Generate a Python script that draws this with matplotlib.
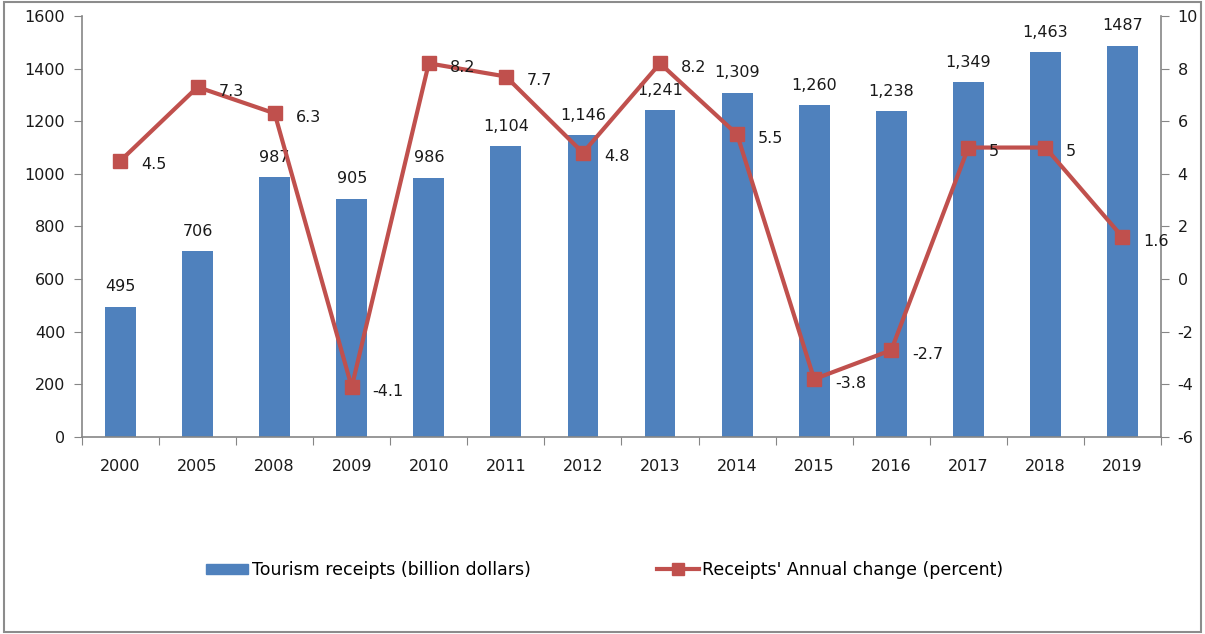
import matplotlib
matplotlib.use("Agg")
import matplotlib.pyplot as plt
from matplotlib.patches import Rectangle
from matplotlib.lines import Line2D
from matplotlib.patches import Patch

years = ["2000", "2005", "2008", "2009", "2010", "2011", "2012", "2013",
         "2014", "2015", "2016", "2017", "2018", "2019"]
receipts = [495, 706, 987, 905, 986, 1104, 1146, 1241, 1309, 1260, 1238, 1349, 1463, 1487]
receipt_labels = ["495", "706", "987", "905", "986", "1,104", "1,146", "1,241",
                  "1,309", "1,260", "1,238", "1,349", "1,463", "1487"]
annual_change = [4.5, 7.3, 6.3, -4.1, 8.2, 7.7, 4.8, 8.2, 5.5, -3.8, -2.7, 5, 5, 1.6]
change_labels = ["4.5", "7.3", "6.3", "-4.1", "8.2", "7.7", "4.8", "8.2", "5.5",
                 "-3.8", "-2.7", "5", "5", "1.6"]

BLUE = "#4F81BD"
RED = "#C0504D"
AXIS = "#868686"
TEXT = "#1a1a1a"
FS = 11.5

plt.rcParams["font.family"] = ["DejaVu Sans"]
plt.rcParams["axes.unicode_minus"] = False

fig = plt.figure(figsize=(12.05, 6.34), dpi=100)
fig.patches.append(Rectangle((0.003, 0.003), 0.994, 0.994, transform=fig.transFigure,
                             fill=False, edgecolor="#8c8c8c", linewidth=1.5))

ax = fig.add_axes([0.068, 0.3107, 0.8955, 0.6641])
x = list(range(len(years)))
ax.bar(x, receipts, width=0.4, color=BLUE, zorder=2)
for xi, v, lab in zip(x, receipts, receipt_labels):
    ax.annotate(lab, (xi, v), xytext=(0, 9), textcoords="offset points",
                ha="center", va="bottom", fontsize=FS, color=TEXT, zorder=3)

ax.set_xlim(-0.5, len(years) - 0.5)
ax.set_ylim(0, 1600)
ax.set_yticks(range(0, 1601, 200))
ax.set_xticks([i + 0.5 for i in range(-1, len(years))], minor=False)
ax.set_xticklabels([])
ax.set_xticks(x, minor=True)
ax.set_xticklabels(years, minor=True)
ax.tick_params(axis="x", which="major", length=6, color=AXIS, direction="out")
ax.tick_params(axis="x", which="minor", length=0, pad=16, labelsize=FS, labelcolor=TEXT)
ax.tick_params(axis="y", length=6, color=AXIS, labelsize=FS, labelcolor=TEXT, pad=6)
for side in ["top", "right"]:
    ax.spines[side].set_visible(False)
for side in ["left", "bottom"]:
    ax.spines[side].set_color(AXIS)
    ax.spines[side].set_linewidth(1.2)

ax2 = ax.twinx()
ax2.plot(x, annual_change, color=RED, linewidth=3, marker="s", markersize=10,
         markerfacecolor=RED, markeredgecolor=RED, zorder=4)
for xi, v, lab in zip(x, annual_change, change_labels):
    ax2.annotate(lab, (xi, v), xytext=(15, -3), textcoords="offset points",
                 ha="left", va="center", fontsize=FS, color=TEXT, zorder=5)
ax2.set_ylim(-6, 10)
ax2.set_yticks(range(-6, 11, 2))
ax2.tick_params(axis="y", length=6, color=AXIS, labelsize=FS, labelcolor=TEXT, pad=6)
for side in ["top", "left", "bottom"]:
    ax2.spines[side].set_visible(False)
ax2.spines["right"].set_color(AXIS)
ax2.spines["right"].set_linewidth(1.2)

handles = [Patch(facecolor=BLUE, edgecolor=BLUE, label="Tourism receipts (billion dollars)"),
           Line2D([0], [0], color=RED, linewidth=3, marker="s", markersize=9,
                  label="Receipts' Annual change (percent)")]
fig.legend(handles=handles, loc="center", bbox_to_anchor=(0.502, 0.101), ncol=2,
           frameon=False, fontsize=12.5, handlelength=2.4, handleheight=0.55,
           columnspacing=7.3, handletextpad=0.2)

fig.savefig("out.png", dpi=100)
